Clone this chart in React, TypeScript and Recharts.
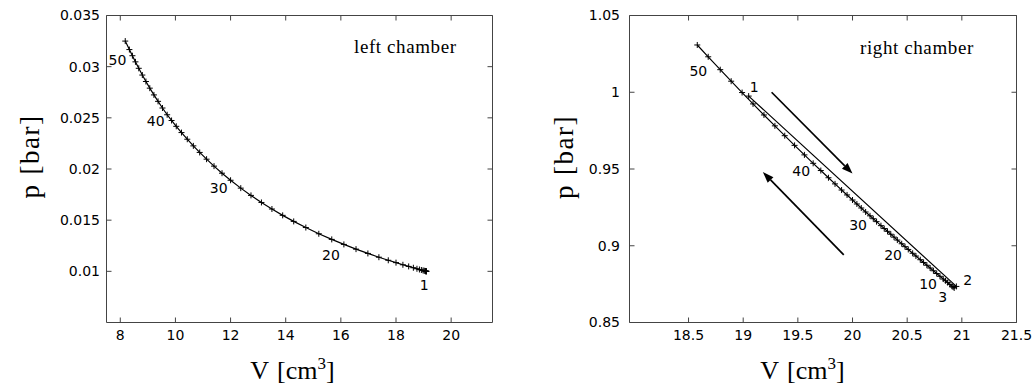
import React from 'react';
import { LineChart, Line, XAxis, YAxis, ReferenceLine, Label } from 'recharts';

// left chamber: volume [cm3] and pressure [bar] for steps 1..51
const leftVolume = [
  19.1, 19.1, 19.09, 19.08, 19.07, 19.05, 19.02, 18.98, 18.92, 18.85,
  18.76, 18.63, 18.46, 18.25, 18.0, 17.72, 17.38, 16.98, 16.55, 16.11,
  15.67, 15.2, 14.73, 14.29, 13.89, 13.5, 13.12, 12.74, 12.37, 12.0,
  11.69, 11.4, 11.13, 10.88, 10.65, 10.43, 10.22, 10.03, 9.86, 9.7,
  9.53, 9.37, 9.22, 9.07, 8.93, 8.8, 8.67, 8.55, 8.44, 8.33, 8.18,
];
const leftPressure = [
  0.01, 0.01, 0.01001, 0.01001, 0.01002, 0.01004, 0.01006, 0.01009, 0.01013, 0.01018,
  0.01025, 0.01035, 0.01048, 0.01064, 0.01085, 0.01108, 0.01138, 0.01175, 0.01217, 0.01263,
  0.01312, 0.01367, 0.01428, 0.01488, 0.01547, 0.01609, 0.01673, 0.01742, 0.01813, 0.0189,
  0.01959, 0.02028, 0.02096, 0.02162, 0.02226, 0.02291, 0.02356, 0.02417, 0.02474, 0.0253,
  0.02596, 0.02661, 0.02724, 0.0279, 0.02855, 0.02918, 0.02984, 0.03047, 0.03107, 0.03167, 0.0325,
];
const leftMarked = [1, 20, 30, 40, 50];
const leftVTicks = [8, 10, 12, 14, 16, 18, 20];
const leftPTicks = [0.01, 0.015, 0.02, 0.025, 0.03, 0.035];

// right chamber
const rightVolume = [
  19.05, 20.95, 20.93, 20.92, 20.91, 20.89, 20.87, 20.85, 20.83, 20.8,
  20.77, 20.74, 20.71, 20.68, 20.65, 20.62, 20.58, 20.55, 20.51, 20.48,
  20.45, 20.41, 20.38, 20.35, 20.32, 20.29, 20.26, 20.22, 20.19, 20.16,
  20.12, 20.08, 20.04, 20.0, 19.95, 19.9, 19.84, 19.78, 19.71, 19.64,
  19.56, 19.47, 19.38, 19.29, 19.19, 19.09, 18.99, 18.89, 18.79, 18.68, 18.58,
];
const rightPressure = [
  0.9975, 0.8735, 0.8725, 0.8731, 0.8736, 0.8748, 0.876, 0.8772, 0.8783, 0.8801,
  0.8819, 0.8837, 0.8855, 0.8873, 0.8891, 0.8909, 0.8933, 0.8951, 0.8976, 0.8994,
  0.9013, 0.9037, 0.9056, 0.9075, 0.9094, 0.9112, 0.9131, 0.9157, 0.9176, 0.9195,
  0.922, 0.9246, 0.9272, 0.9298, 0.9331, 0.9363, 0.9403, 0.9443, 0.949, 0.9537,
  0.9592, 0.9654, 0.9717, 0.9781, 0.9852, 0.9924, 0.9998, 1.0072, 1.0147, 1.0231, 1.0308,
];
const rightMarked = [1, 2, 3, 10, 20, 30, 40, 50];
const rightVTicks = [18.5, 19, 19.5, 20, 20.5, 21, 21.5];
const rightPTicks = [0.85, 0.9, 0.95, 1, 1.05];
const rightArrows = [
  { from: { x: 19.26, y: 1.0 }, to: { x: 20.0, y: 0.947 } },
  { from: { x: 19.92, y: 0.894 }, to: { x: 19.18, y: 0.948 } },
];

type Tag = { dx: number; dy: number; anchor: 'start' | 'middle' | 'end' };

const leftTags: Record<string, Tag> = {
  '1': { dx: -2, dy: 18.5, anchor: 'middle' },
  '20': { dx: -4, dy: 16, anchor: 'end' },
  '30': { dx: -3, dy: 12.5, anchor: 'end' },
  '40': { dx: -2.5, dy: 11, anchor: 'end' },
  '50': { dx: -3, dy: 15, anchor: 'end' },
};
const rightTags: Record<string, Tag> = {
  '1': { dx: 1, dy: -4, anchor: 'start' },
  '2': { dx: 7, dy: -1.5, anchor: 'start' },
  '3': { dx: -7, dy: 14, anchor: 'end' },
  '10': { dx: -3, dy: 13, anchor: 'end' },
  '20': { dx: -3, dy: 13, anchor: 'end' },
  '30': { dx: -3, dy: 14, anchor: 'end' },
  '40': { dx: -3, dy: 13, anchor: 'end' },
  '50': { dx: -1, dy: 19, anchor: 'end' },
};

const SANS = 'DejaVu Sans, sans-serif';
const SERIF = 'Liberation Serif, Times New Roman, serif';
const BOX = '#444';

const toRows = (vs: number[], ps: number[], marked: number[]) =>
  vs.map((v, i) => ({ v, p: ps[i], tag: marked.includes(i + 1) ? String(i + 1) : undefined }));

const makeDot = (tags: Record<string, Tag>) => (props: any) => {
  const { cx, cy, index, payload } = props;
  const t = payload.tag ? tags[payload.tag] : null;
  return (
    <g key={`pt-${index}`}>
      <path d={`M${cx - 3},${cy}H${cx + 3}M${cx},${cy - 3}V${cy + 3}`} stroke="#000" strokeWidth={1} />
      {t && (
        <text x={cx + t.dx} y={cy + t.dy} textAnchor={t.anchor} fontFamily={SANS} fontSize={14} fill="#000">
          {payload.tag}
        </text>
      )}
    </g>
  );
};

const Arrow = (props: any) => {
  const { x1, y1, x2, y2 } = props;
  const a = Math.atan2(y2 - y1, x2 - x1);
  const bx = x2 - 11 * Math.cos(a);
  const by = y2 - 11 * Math.sin(a);
  const px = -Math.sin(a) * 4;
  const py = Math.cos(a) * 4;
  return (
    <g>
      <line x1={x1} y1={y1} x2={bx} y2={by} stroke="#000" strokeWidth={1.7} />
      <polygon points={`${x2},${y2} ${bx + px},${by + py} ${bx - px},${by - py}`} fill="#000" />
    </g>
  );
};

const noTick = () => <g />;

interface PanelProps {
  rows: Array<{ v: number; p: number; tag?: string }>;
  vDomain: [number, number];
  pDomain: [number, number];
  vTicks: number[];
  pTicks: number[];
  tags: Record<string, Tag>;
  margin: { top: number; right: number; bottom: number; left: number };
  pTickMargin: number;
  title: string;
  titlePos: [number, number];
  pTitlePos: [number, number];
  vTitlePos: [number, number];
  arrows?: typeof rightArrows;
}

function Panel(props: PanelProps) {
  const { rows, vDomain, pDomain, vTicks, pTicks, tags, margin, pTickMargin, title, titlePos, pTitlePos, vTitlePos, arrows } = props;
  const tickStyle = { fontFamily: SANS, fontSize: 14, fill: '#000' };
  return (
    <LineChart width={518} height={388} data={rows} margin={margin}>
      <XAxis
        dataKey="v"
        type="number"
        domain={vDomain}
        ticks={vTicks}
        interval={0}
        allowDataOverflow
        height={30}
        tickSize={-5}
        tickMargin={12.5}
        tick={tickStyle}
        stroke={BOX}
      >
        <Label
          content={() => (
            <text x={vTitlePos[0]} y={vTitlePos[1]} textAnchor="middle" fontFamily={SERIF} fontSize={26} fill="#000">
              <tspan>V</tspan>
              <tspan dx={8}>[cm</tspan>
              <tspan dy={-10} fontSize={17}>3</tspan>
              <tspan dy={10}>]</tspan>
            </text>
          )}
        />
      </XAxis>
      <XAxis
        xAxisId="top"
        dataKey="v"
        orientation="top"
        type="number"
        domain={vDomain}
        ticks={vTicks}
        interval={0}
        allowDataOverflow
        height={1}
        tickSize={-5}
        tick={noTick}
        stroke={BOX}
      />
      <YAxis
        dataKey="p"
        type="number"
        domain={pDomain}
        ticks={pTicks}
        interval={0}
        allowDataOverflow
        width={60}
        tickSize={-5}
        tickMargin={pTickMargin}
        tick={tickStyle}
        stroke={BOX}
      >
        <Label
          content={() => (
            <text
              x={pTitlePos[0]}
              y={pTitlePos[1]}
              transform={`rotate(-90, ${pTitlePos[0]}, ${pTitlePos[1]})`}
              textAnchor="middle"
              fontFamily={SERIF}
              fontSize={27}
              letterSpacing={1.5}
              fill="#000"
            >
              <tspan>p</tspan>
              <tspan dx={9}>[bar]</tspan>
            </text>
          )}
        />
      </YAxis>
      <YAxis
        yAxisId="right"
        dataKey="p"
        orientation="right"
        type="number"
        domain={pDomain}
        ticks={pTicks}
        interval={0}
        allowDataOverflow
        width={1}
        tickSize={-5}
        tick={noTick}
        stroke={BOX}
      />
      {/* hidden twin series so the mirrored top/right axes get drawn */}
      <Line
        xAxisId="top"
        yAxisId="right"
        dataKey="p"
        stroke="none"
        dot={false}
        activeDot={false}
        legendType="none"
        isAnimationActive={false}
      />
      {(arrows || []).map((a, i) => (
        <ReferenceLine key={`arrow-${i}`} segment={[a.from, a.to]} shape={Arrow} ifOverflow="visible" />
      ))}
      <Line
        type="linear"
        dataKey="p"
        stroke="#000"
        strokeWidth={1.2}
        dot={makeDot(tags)}
        activeDot={false}
        isAnimationActive={false}
      />
      <ReferenceLine
        segment={[{ x: vDomain[0], y: pDomain[1] }, { x: vDomain[1], y: pDomain[1] }]}
        stroke="none"
        ifOverflow="visible"
      >
        <Label
          content={() => (
            <text x={titlePos[0]} y={titlePos[1]} fontFamily={SERIF} fontSize={19} letterSpacing={0.6} fill="#000">
              {title}
            </text>
          )}
        />
      </ReferenceLine>
    </LineChart>
  );
}

export default function App() {
  const leftRows = toRows(leftVolume, leftPressure, leftMarked);
  const rightRows = toRows(rightVolume, rightPressure, rightMarked);
  return (
    <div style={{ position: 'absolute', left: 0, top: 0, width: 1036, height: 388, background: '#fff' }}>
      <div style={{ position: 'absolute', left: 0, top: 0 }}>
        <Panel
          rows={leftRows}
          vDomain={[7.5, 21.5]}
          pDomain={[0.005, 0.035]}
          vTicks={leftVTicks}
          pTicks={leftPTicks}
          tags={leftTags}
          margin={{ top: 14.5, right: 24.5, bottom: 35.5, left: 46.5 }}
          pTickMargin={11.5}
          title="left chamber"
          titlePos={[354, 53]}
          pTitlePos={[39, 156.5]}
          vTitlePos={[292.5, 379]}
        />
      </div>
      <div style={{ position: 'absolute', left: 518, top: 0 }}>
        <Panel
          rows={rightRows}
          vDomain={[17.96, 21.5]}
          pDomain={[0.85, 1.05]}
          vTicks={rightVTicks}
          pTicks={rightPTicks}
          tags={rightTags}
          margin={{ top: 14.5, right: 18.5, bottom: 35.5, left: 51.5 }}
          pTickMargin={14.5}
          title="right chamber"
          titlePos={[342, 54]}
          pTitlePos={[55, 157]}
          vTitlePos={[284.5, 379]}
          arrows={rightArrows}
        />
      </div>
    </div>
  );
}
